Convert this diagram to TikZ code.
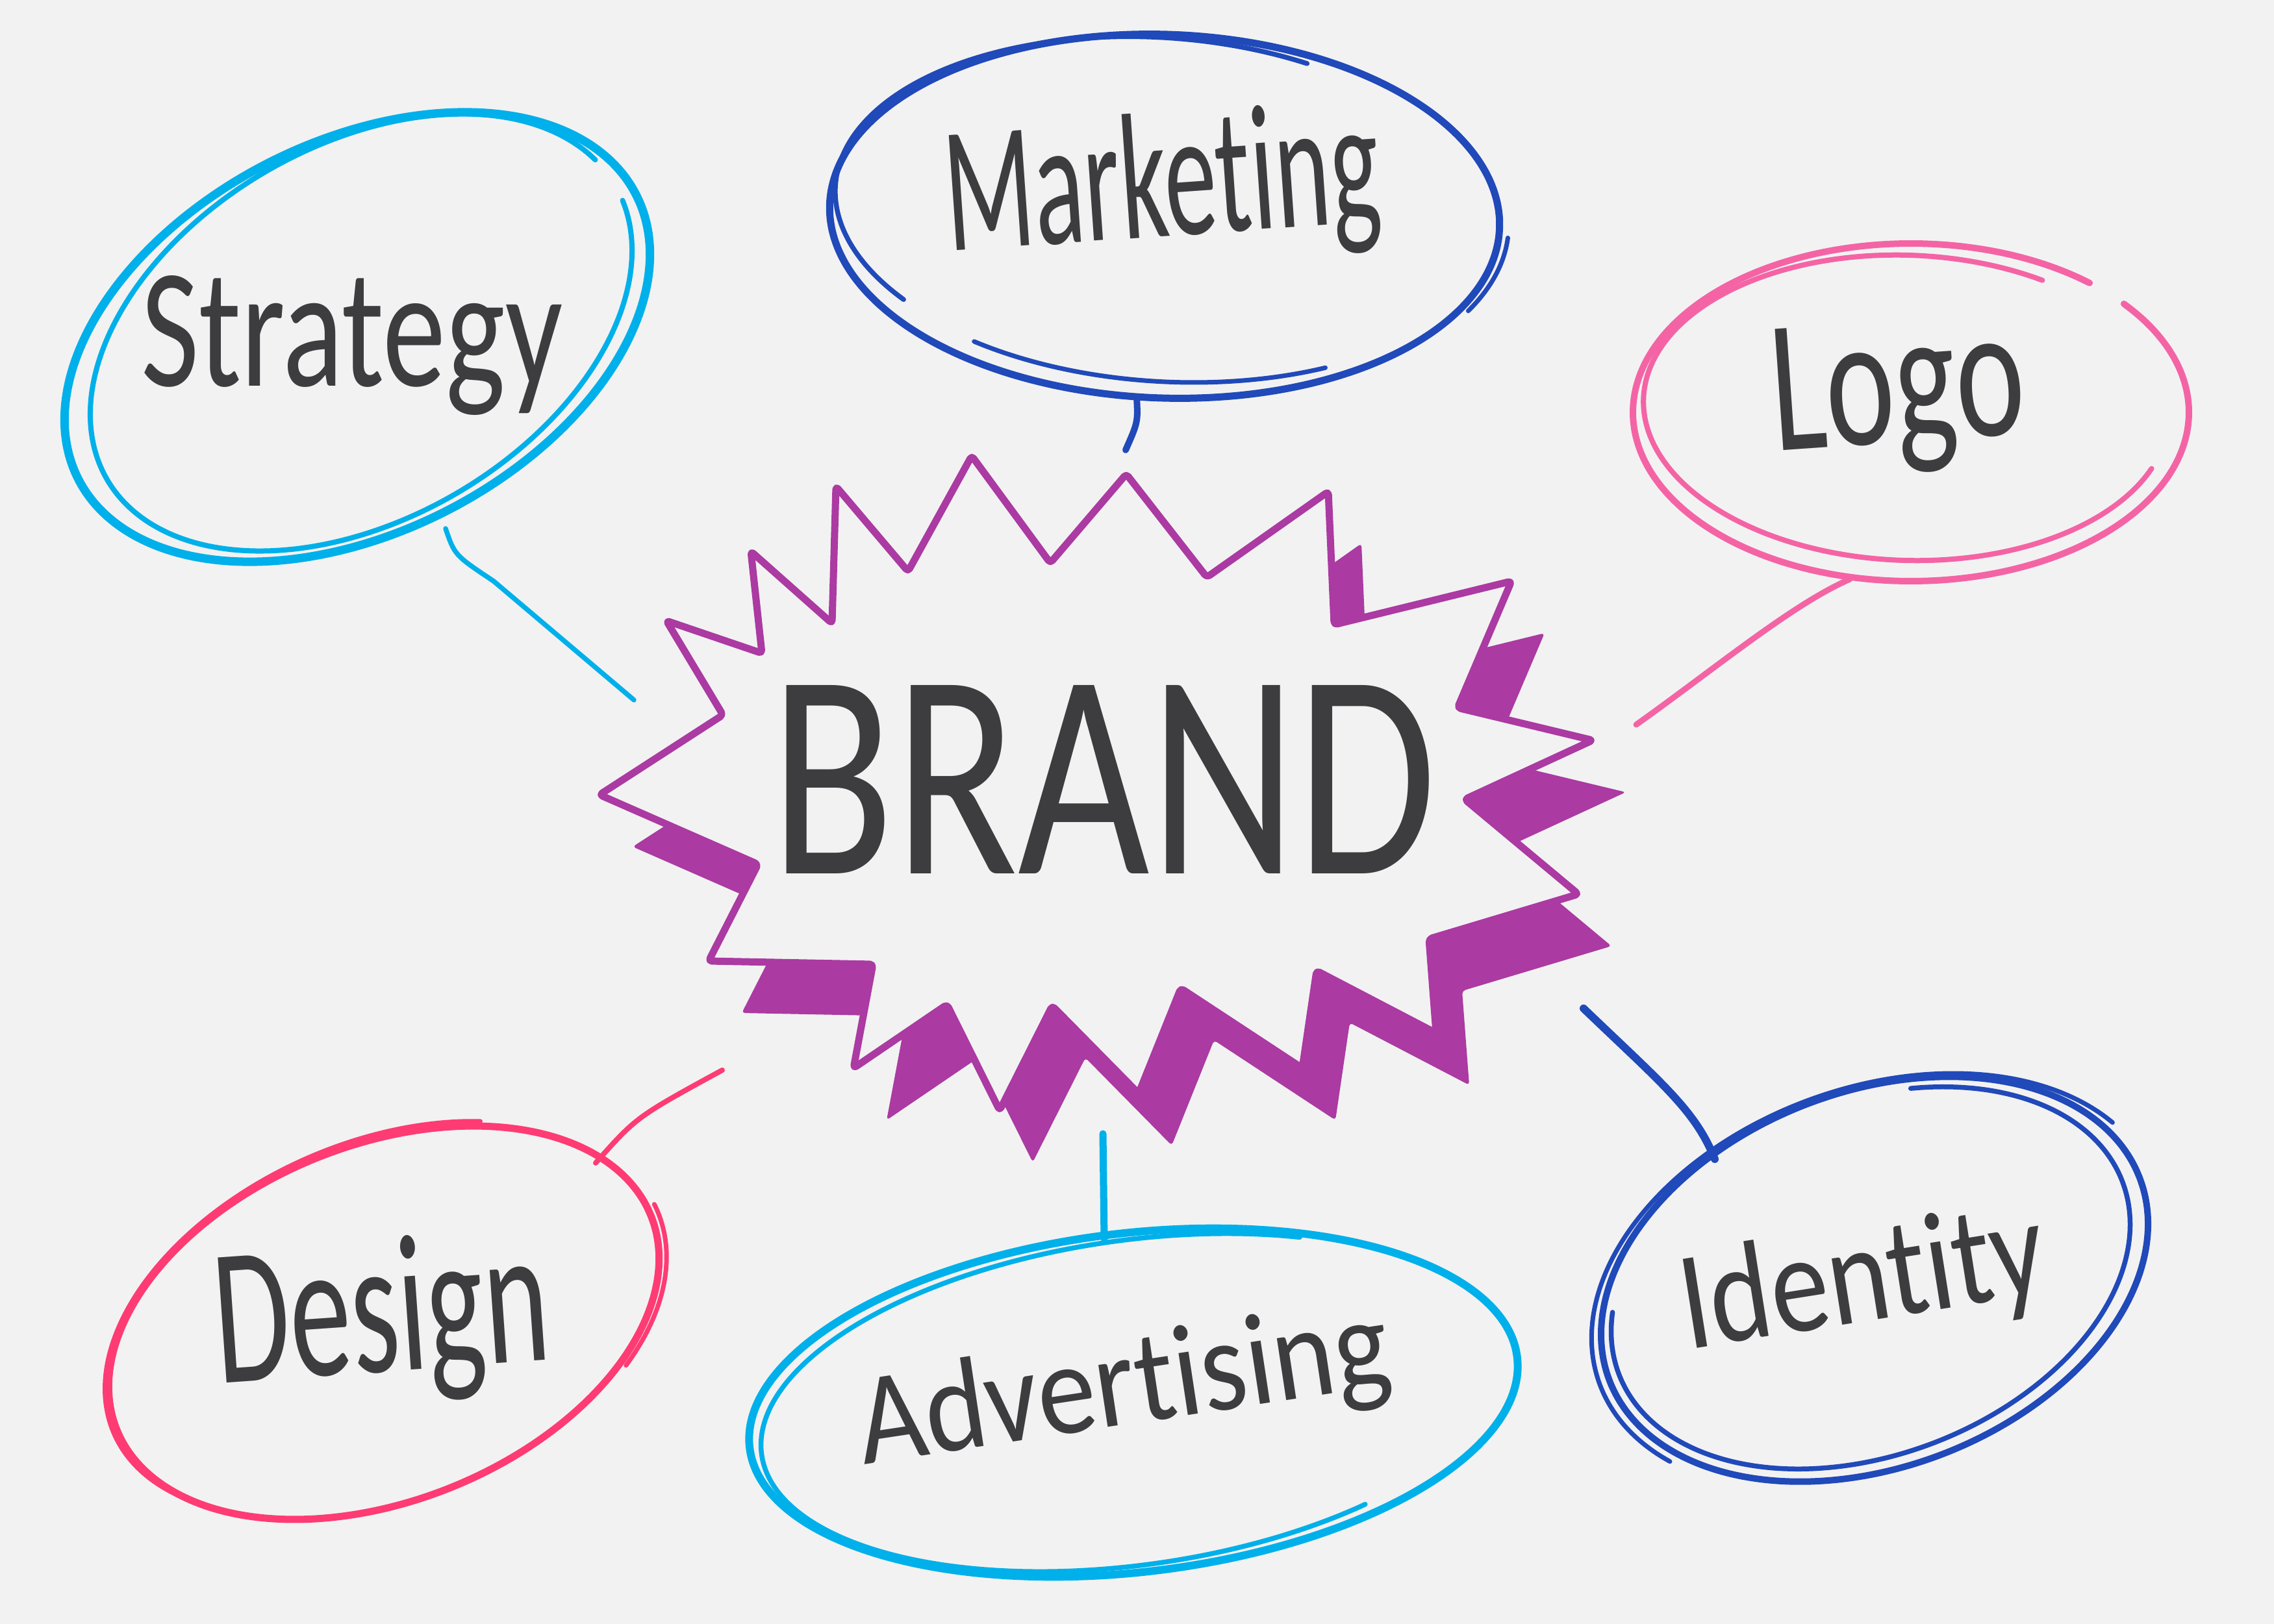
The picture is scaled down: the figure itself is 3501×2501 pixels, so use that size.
\documentclass[tikz,border=0pt]{standalone}
\usepackage{fontspec}
\usepackage{graphicx}
\newfontfamily\hand{Carlito}[Ligatures={NoCommon}]
\definecolor{bg}{HTML}{F2F2F2}
\definecolor{ink}{HTML}{3D3D3F}
\definecolor{cyanline}{HTML}{00B0EA}
\definecolor{blueline}{HTML}{2049B9}
\definecolor{pinkline}{HTML}{F464A5}
\definecolor{roseline}{HTML}{FF3B74}
\definecolor{starpurple}{HTML}{AB3AA2}
% sketch stroke: colour, width, cx, cy, a, b, rotation, t1, t2
\newcommand\skarc[9]{%
  \draw[#1, line width=#2, line cap=round]
    plot[domain=#8:#9, samples=120, smooth]
    ({#3 + #5*cos(\x)*cos(#7) + #6*sin(\x)*sin(#7)},
     {#4 - #5*cos(\x)*sin(#7) + #6*sin(\x)*cos(#7)});}
\begin{document}
\begin{tikzpicture}[x=0.1mm, y=-0.1mm, line cap=round, line join=round,
  txt/.style={inner sep=0pt, outer sep=0pt, text=ink, font=\hand},
  link/.style={line width=#1, line cap=round}]
\useasboundingbox (0,0) rectangle (3501,2501);
\fill[bg] (0,0) rectangle (3501,2501);

% ---- central starburst: shadow ----
\fill[starpurple, rounded corners=0.5mm, shift={(51,80)}]
 (1314,1645) -- (1458,1547) -- (1539,1710) -- (1620,1549) -- (1753,1684) --
 (1818,1522) -- (2005,1645) -- (2027,1495) -- (2211,1591) -- (2200,1446) --
 (2430,1377) -- (2255,1231) -- (2452,1140) -- (2244,1090) -- (2327,895) --
 (2054,962) -- (2045,757) -- (1858,889) -- (1734,730) -- (1617,867) --
 (1496,702) -- (1398,880) -- (1287,749) -- (1281,960) -- (1156,849) --
 (1173,1006) -- (1026,956) -- (1113,1101) -- (923,1224) -- (1167,1331) --
 (1091,1480) -- (1344,1485) -- cycle;
% ---- central starburst: outline ----
\filldraw[fill=bg, draw=starpurple, line width=1.1mm, rounded corners=0.5mm]
 (1314,1645) -- (1458,1547) -- (1539,1710) -- (1620,1549) -- (1753,1684) --
 (1818,1522) -- (2005,1645) -- (2027,1495) -- (2211,1591) -- (2200,1446) --
 (2430,1377) -- (2255,1231) -- (2452,1140) -- (2244,1090) -- (2327,895) --
 (2054,962) -- (2045,757) -- (1858,889) -- (1734,730) -- (1617,867) --
 (1496,702) -- (1398,880) -- (1287,749) -- (1281,960) -- (1156,849) --
 (1173,1006) -- (1026,956) -- (1113,1101) -- (923,1224) -- (1167,1331) --
 (1091,1480) -- (1344,1485) -- cycle;
\node[txt] (brand) at (1699,1200) {\resizebox{102.4mm}{29mm}{BRAND}};

% ---- Strategy ----
\skarc{cyanline}{1.3mm}{550}{519}{482}{301}{27}{0}{360}
\skarc{cyanline}{0.8mm}{556}{512}{452}{288}{30}{5}{350}
\node[txt, anchor=base west] (strategy) at (217,595) {\resizebox{64.9mm}{17mm}{Strategy}};

% ---- Marketing ----
\skarc{blueline}{1.1mm}{1793}{333}{516}{280}{-2}{0}{360}
\skarc{blueline}{0.75mm}{1785}{320}{500}{262}{-4}{140}{295}
\skarc{blueline}{0.7mm}{1800}{330}{505}{258}{-3}{60}{125}
\skarc{blueline}{0.7mm}{1793}{333}{530}{285}{-2}{3}{27}
\node[txt, anchor=base west, rotate=4] (marketing) at (1460,387) {\resizebox{67mm}{19.2mm}{Marketing}};

% ---- Logo ----
\skarc{pinkline}{1.0mm}{2942}{635}{428}{260}{0}{-40}{310}
\skarc{pinkline}{0.8mm}{2935}{628}{405}{235}{-2}{20}{300}
\node[txt, anchor=base west, rotate=4] (logo) at (2732,694) {\resizebox{39.1mm}{18.7mm}{Logo}};

% ---- Design ----
\skarc{roseline}{1.1mm}{591}{2037}{443}{274}{21.8}{0}{360}
\skarc{roseline}{0.7mm}{578}{2030}{440}{268}{24}{150}{308}
\skarc{roseline}{0.7mm}{591}{2037}{455}{282}{21.8}{-3}{45}
\node[txt, anchor=base west, rotate=4] (design) at (336,2130) {\resizebox{51.6mm}{20.7mm}{Design}};

% ---- Advertising ----
\skarc{cyanline}{1.2mm}{1745}{2160}{595}{261}{6.7}{0}{360}
\skarc{cyanline}{0.75mm}{1745}{2160}{578}{250}{8}{55}{300}
\node[txt, anchor=base west, rotate=8.6] (advertising) at (1330,2255) {\resizebox{82.5mm}{14mm}{Advertising}};

% ---- Identity ----
\skarc{blueline}{1.0mm}{2886}{1970}{437}{289}{20.9}{0}{360}
\skarc{blueline}{0.7mm}{2890}{1975}{455}{300}{20}{150}{339}
\skarc{blueline}{0.75mm}{2880}{1968}{415}{272}{21}{293}{560}
\node[txt, anchor=base west, rotate=9] (identity) at (2598,2078) {\resizebox{56.5mm}{15mm}{Identity}};

% ---- connectors ----
\coordinate (s-end) at (686,814);  \coordinate (s-hub) at (976,1078);
\coordinate (m-end) at (1750,612); \coordinate (m-hub) at (1733,693);
\coordinate (l-end) at (2848,892); \coordinate (l-hub) at (2519,1116);
\coordinate (d-end) at (917,1791); \coordinate (d-hub) at (1112,1648);
\coordinate (a-end) at (1700,1908); \coordinate (a-hub) at (1698,1746);
\coordinate (i-end) at (2640,1785); \coordinate (i-hub) at (2438,1553);

\draw[cyanline, link=0.75mm] (s-end) .. controls (700,855) .. (760,895) -- (s-hub);
\draw[blueline, link=1.0mm] (m-end) .. controls (1752,650) .. (m-hub);
\draw[pinkline, link=0.9mm] (l-end) .. controls (2760,930) and (2640,1030) .. (l-hub);
\draw[roseline, link=0.8mm] (d-end) .. controls (980,1720) .. (d-hub);
\draw[cyanline, link=1.1mm] (a-hub) -- (a-end);
\draw[blueline, link=1.2mm] (i-hub) .. controls (2560,1670) and (2610,1710) .. (i-end);
\end{tikzpicture}
\end{document}
